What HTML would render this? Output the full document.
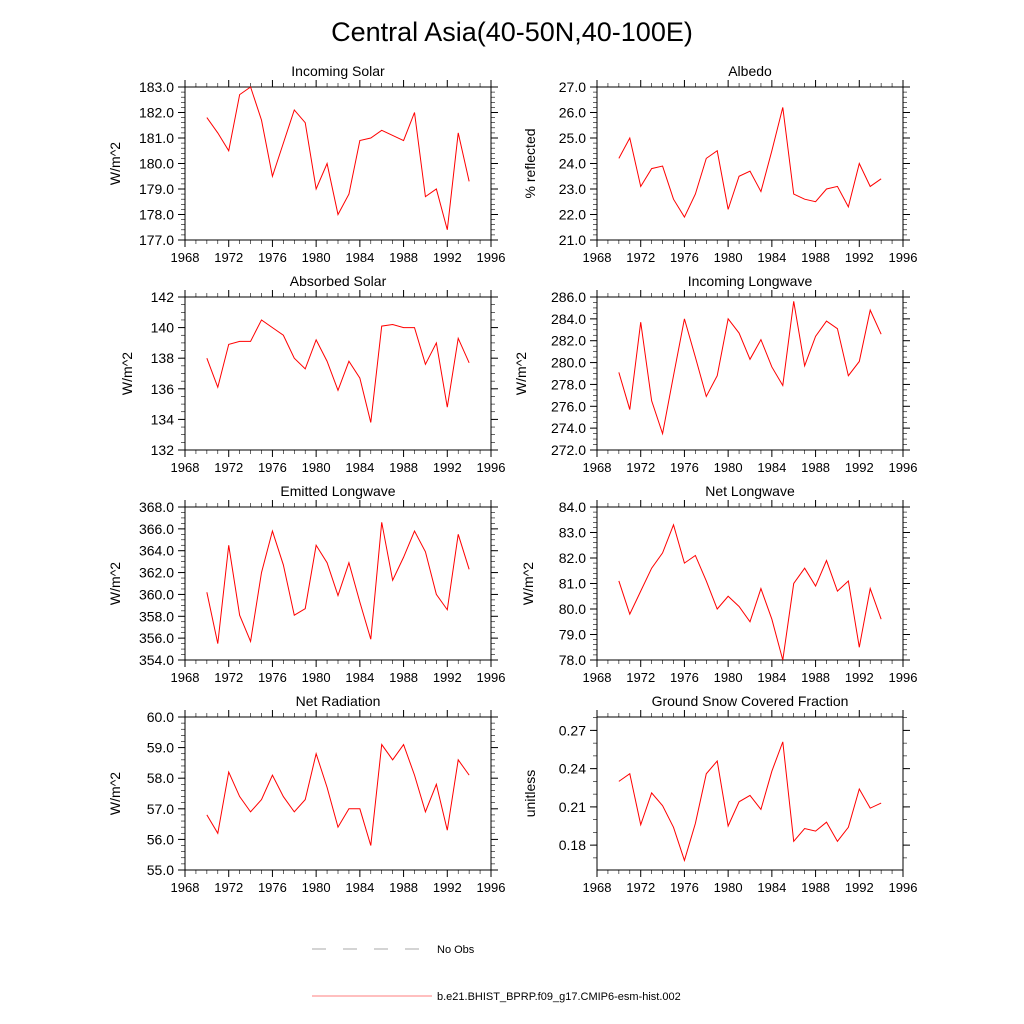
<!DOCTYPE html>
<html><head><meta charset="utf-8"><style>body{margin:0;background:#fff}svg{display:block;font-family:"Liberation Sans",sans-serif}</style></head>
<body>
<svg id="c" width="1024" height="1024" viewBox="0 0 1024 1024">
<text x="512" y="41" font-size="27" text-anchor="middle">Central Asia(40-50N,40-100E)</text>
<g>
<line x1="312" y1="949" x2="420" y2="949" stroke="#555" stroke-width="0.6" stroke-dasharray="14,17"/>
<text x="437" y="953" font-size="11">No Obs</text>
<line x1="312" y1="996" x2="432" y2="996" stroke="red" stroke-width="0.6"/>
<text x="437" y="1000" font-size="11">b.e21.BHIST_BPRP.f09_g17.CMIP6-esm-hist.002</text>
</g>
</svg>
<script>
const years=[1970,1971,1972,1973,1974,1975,1976,1977,1978,1979,1980,1981,1982,1983,1984,1985,1986,1987,1988,1989,1990,1991,1992,1993,1994];
const xTicks=[1968,1972,1976,1980,1984,1988,1992,1996];
const incomingSolar=[181.8,181.2,180.5,182.7,183.0,181.7,179.5,180.8,182.1,181.6,179.0,180.0,178.0,178.8,180.9,181.0,181.3,181.1,180.9,182.0,178.7,179.0,177.4,181.2,179.3];
const albedo=[24.2,25.0,23.1,23.8,23.9,22.6,21.9,22.8,24.2,24.5,22.2,23.5,23.7,22.9,24.5,26.2,22.8,22.6,22.5,23.0,23.1,22.3,24.0,23.1,23.4];
const absorbedSolar=[138.0,136.1,138.9,139.1,139.1,140.5,140.0,139.5,138.0,137.3,139.2,137.8,135.9,137.8,136.7,133.8,140.1,140.2,140.0,140.0,137.6,139.0,134.8,139.3,137.7];
const incomingLW=[279.1,275.7,283.7,276.5,273.5,278.8,284.0,280.5,276.9,278.8,284.0,282.7,280.3,282.1,279.6,277.9,285.6,279.7,282.4,283.8,283.1,278.8,280.1,284.8,282.6];
const emittedLW=[360.2,355.5,364.5,358.1,355.7,362.0,365.8,362.7,358.1,358.7,364.5,362.9,359.9,362.9,359.3,355.9,366.6,361.3,363.4,365.8,363.9,360.0,358.6,365.5,362.3];
const netLW=[81.1,79.8,80.7,81.6,82.2,83.3,81.8,82.1,81.1,80.0,80.5,80.1,79.5,80.8,79.6,78.0,81.0,81.6,80.9,81.9,80.7,81.1,78.5,80.8,79.6];
const netRad=[56.8,56.2,58.2,57.4,56.9,57.3,58.1,57.4,56.9,57.3,58.8,57.7,56.4,57.0,57.0,55.8,59.1,58.6,59.1,58.1,56.9,57.8,56.3,58.6,58.1];
const snow=[0.230,0.236,0.196,0.221,0.211,0.194,0.168,0.197,0.236,0.246,0.195,0.214,0.219,0.208,0.238,0.261,0.183,0.193,0.191,0.198,0.183,0.194,0.224,0.209,0.213];
const ticksSolar=[177,178,179,180,181,182,183];
const ticksAlb=[21,22,23,24,25,26,27];
const ticksAbs=[132,134,136,138,140,142];
const ticksILW=[272,274,276,278,280,282,284,286];
const ticksELW=[354,356,358,360,362,364,366,368];
const ticksNLW=[78,79,80,81,82,83,84];
const ticksNR=[55,56,57,58,59,60];
const ticksSnow=[0.18,0.21,0.24,0.27];
const NS="http://www.w3.org/2000/svg";
const svg=document.getElementById('c');
function mk(t,a,p){const e=document.createElementNS(NS,t);for(const k in a)e.setAttribute(k,a[k]);(p||svg).appendChild(e);return e;}
const panels=[
{n:'incoming-solar',t:'Incoming Solar',y:'W/m^2',x0:185,y0:87,d:incomingSolar,tk:ticksSolar,lo:177,hi:183,dec:1,minor:5,yo:70},
{n:'albedo',t:'Albedo',y:'% reflected',x0:597,y0:87,d:albedo,tk:ticksAlb,lo:21,hi:27,dec:1,minor:5,yo:67},
{n:'absorbed-solar',t:'Absorbed Solar',y:'W/m^2',x0:185,y0:297,d:absorbedSolar,tk:ticksAbs,lo:132,hi:142,dec:0,minor:4,yo:58},
{n:'incoming-longwave',t:'Incoming Longwave',y:'W/m^2',x0:597,y0:297,d:incomingLW,tk:ticksILW,lo:272,hi:286,dec:1,minor:4,yo:76},
{n:'emitted-longwave',t:'Emitted Longwave',y:'W/m^2',x0:185,y0:507,d:emittedLW,tk:ticksELW,lo:354,hi:368,dec:1,minor:4,yo:70},
{n:'net-longwave',t:'Net Longwave',y:'W/m^2',x0:597,y0:507,d:netLW,tk:ticksNLW,lo:78,hi:84,dec:1,minor:5,yo:69},
{n:'net-radiation',t:'Net Radiation',y:'W/m^2',x0:185,y0:717,d:netRad,tk:ticksNR,lo:55,hi:60,dec:1,minor:5,yo:70},
{n:'ground-snow',t:'Ground Snow Covered Fraction',y:'unitless',x0:597,y0:717,d:snow,tk:ticksSnow,lo:0.1605,hi:0.2805,dec:2,minor:3,yo:67}
];
const W=306,H=153;
panels.forEach(p=>{
 const g=mk('g',{});
 
 
 const xs=v=>p.x0+(v-1968)/28*W;
 const ys=v=>p.y0+H-(v-p.lo)/(p.hi-p.lo)*H;
 const r=mk('rect',{x:p.x0,y:p.y0,width:W,height:H,fill:'none',stroke:'#000','stroke-width':1},g);
 
 
 const tt=mk('text',{x:p.x0+W/2,y:p.y0-11,'font-size':14,'text-anchor':'middle'},g);tt.textContent=p.t;
 
 
 const yt=mk('text',{x:0,y:0,'font-size':14,'text-anchor':'middle',transform:`translate(${p.x0-p.yo+5},${p.y0+H/2}) rotate(-90)`},g);yt.textContent=p.y;
 
 
 xTicks.forEach((v,i)=>{const x=xs(v);
  mk('line',{x1:x,x2:x,y1:p.y0+H,y2:p.y0+H+7,stroke:'#000'},g);
  mk('line',{x1:x,x2:x,y1:p.y0,y2:p.y0-7,stroke:'#000'},g);
  const l=mk('text',{x:x,y:p.y0+H+22,'font-size':13,'text-anchor':'middle'},g);l.textContent=v;
  
  
  if(i<xTicks.length-1)for(let k=1;k<4;k++){const xm=xs(v+k);mk('line',{x1:xm,x2:xm,y1:p.y0+H,y2:p.y0+H+4,stroke:'#000','stroke-width':0.6},g);mk('line',{x1:xm,x2:xm,y1:p.y0,y2:p.y0-4,stroke:'#000','stroke-width':0.6},g);}
 });
 const step=p.tk[1]-p.tk[0];
 for(let v=p.tk[0]-step;v<=p.tk[p.tk.length-1]+step;v+=step/p.minor){const y=ys(v);if(y<p.y0-0.5||y>p.y0+H+0.5)continue;
  mk('line',{x1:p.x0,x2:p.x0-4,y1:y,y2:y,stroke:'#000','stroke-width':0.6},g);mk('line',{x1:p.x0+W,x2:p.x0+W+4,y1:y,y2:y,stroke:'#000','stroke-width':0.6},g);}
 p.tk.forEach(v=>{const y=ys(v);
  mk('line',{x1:p.x0,x2:p.x0-7,y1:y,y2:y,stroke:'#000'},g);mk('line',{x1:p.x0+W,x2:p.x0+W+7,y1:y,y2:y,stroke:'#000'},g);
  const l=mk('text',{x:p.x0-11,y:y+5,'font-size':14,'text-anchor':'end'},g);l.textContent=v.toFixed(p.dec);
  
  
 });
 const pl=mk('polyline',{points:p.d.map((v,i)=>xs(years[i])+','+ys(v)).join(' '),fill:'none',stroke:'red','stroke-width':1},g);
 
 
});
</script>
</body></html>
